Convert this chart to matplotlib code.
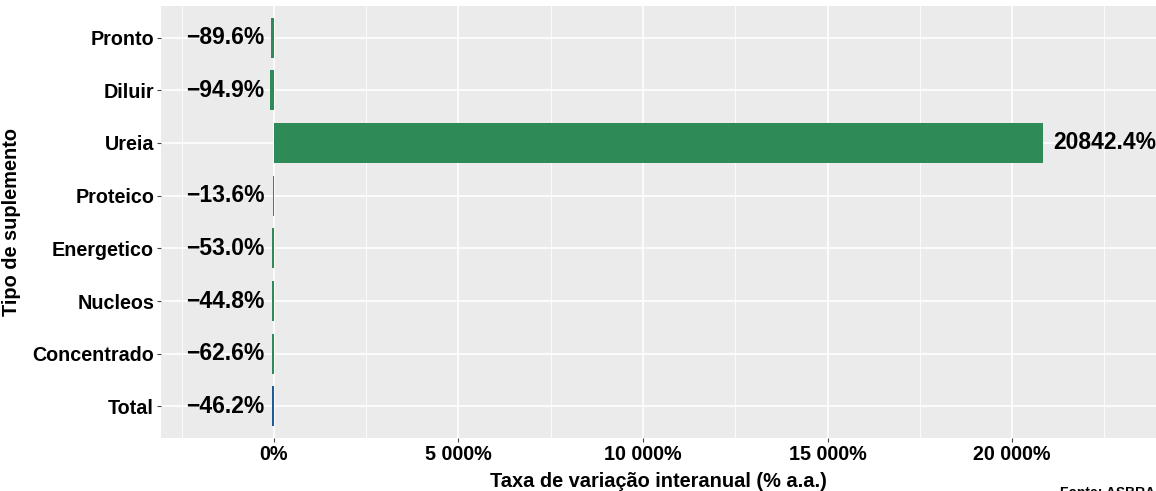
import numpy as np
import matplotlib
matplotlib.use("Agg")
from matplotlib import pyplot as plt
from matplotlib.ticker import FixedLocator

# Data (top to bottom in the chart).
categories = ["Pronto", "Diluir", "Ureia", "Proteico", "Energetico", "Nucleos", "Concentrado", "Total"]
variation = [-89.6, -94.9, 20842.4, -13.6, -53.0, -44.8, -62.6, -46.2]
bar_colors = ["#2e8b57"] * 7 + ["#1f5b99"]
x_ticks = [0, 5000, 10000, 15000, 20000]
x_tick_labels = ["0%", "5 000%", "10 000%", "15 000%", "20 000%"]

plt.rcParams["font.family"] = ["Liberation Sans", "DejaVu Sans"]
plt.rcParams["font.weight"] = "bold"

fig = plt.figure(figsize=(11.56, 4.91), dpi=100)
W, H = 1156, 491
ax = fig.add_axes([161 / W, 1 - 438 / H, (W - 161) / W, (438 - 6) / H])
ax.set_facecolor("#ebebeb")
for s in ax.spines.values():
    s.set_visible(False)

# Categories from bottom (1) to top (8).
y_pos = np.arange(len(categories), 0, -1)
ax.barh(y_pos, variation, height=0.76, color=bar_colors, zorder=3)

# Value labels.
for y, v in zip(y_pos, variation):
    txt = "{:.1f}%".format(v).replace("-", "\u2212")
    if v < 0:
        ax.annotate(txt, (0, y), xytext=(-7, 0), textcoords="offset points",
                    ha="right", va="center", fontsize=16.5, fontweight="bold", zorder=4)
    else:
        ax.annotate(txt, (v, y), xytext=(7, 0), textcoords="offset points",
                    ha="left", va="center", fontsize=16.5, fontweight="bold", zorder=4)

ax.set_xlim(-3062, 23902)
ax.set_ylim(0.4, 8.6)

ax.set_yticks(y_pos)
ax.set_yticklabels(categories, fontsize=14.2, fontweight="bold")
ax.set_xticks(x_ticks)
ax.set_xticklabels(x_tick_labels, fontsize=14.2, fontweight="bold")
ax.xaxis.set_minor_locator(FixedLocator([-2500, 2500, 7500, 12500, 17500, 22500]))
ax.tick_params(axis="both", which="major", length=3, color="#444444", pad=2)
ax.tick_params(axis="x", which="minor", length=0)

ax.grid(True, which="major", color="white", linewidth=1.2, zorder=0)
ax.grid(True, which="minor", axis="x", color="white", linewidth=0.6, zorder=0)
ax.set_axisbelow(True)

ax.set_xlabel("Taxa de variação interanual (% a.a.)", fontsize=14.4, fontweight="bold", labelpad=6)
ax.set_ylabel("Tipo de suplemento", fontsize=14.4, fontweight="bold", labelpad=8)

# Source caption, cut by the bottom edge as in the original.
fig.text(1060 / W, 1 - 486 / H, "Fonte: ASBRAM", fontsize=10, fontweight="bold",
         ha="left", va="top")

fig.savefig("out.png", dpi=100)
